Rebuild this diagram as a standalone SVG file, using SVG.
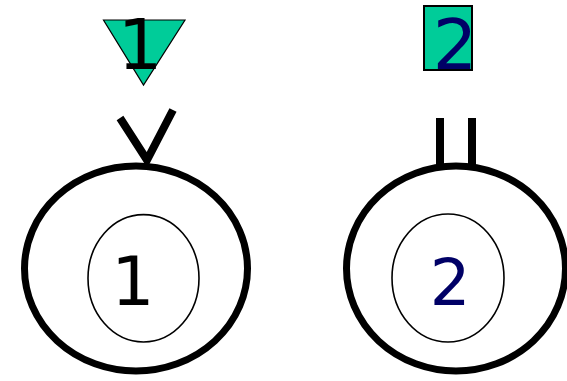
<svg xmlns="http://www.w3.org/2000/svg" width="567" height="381" viewBox="0 0 567 381">
  <style>
    .outer { fill: #ffffff; stroke: #000000; stroke-width: 7; }
    .inner { fill: #ffffff; stroke: #000000; stroke-width: 1.6; }
    .token { fill: #00cc99; stroke: #000000; }
    .digit { font-family: "DejaVu Sans", "Liberation Sans", sans-serif; text-anchor: middle; }
    .conn { stroke: #000000; stroke-width: 8; fill: none; }
  </style>
  <rect width="567" height="381" fill="#ffffff"/>
  <g id="connectors">
    <polyline class="conn" points="120,118 147,160 173,110" stroke-linejoin="miter"/>
    <line class="conn" x1="440" y1="118" x2="440" y2="168"/>
    <line class="conn" x1="472" y1="118" x2="472" y2="168"/>
  </g>
  <g id="node1">
    <ellipse class="outer" cx="136" cy="268.5" rx="111.5" ry="102.5"/>
    <ellipse class="inner" cx="143.5" cy="278.3" rx="55.5" ry="63.7"/>
    <text class="digit" x="133" y="305" font-size="68" fill="#000000">1</text>
  </g>
  <g id="node2">
    <ellipse class="outer" cx="456" cy="268.5" rx="109.5" ry="102.5"/>
    <ellipse class="inner" cx="448" cy="278" rx="56" ry="64"/>
    <text class="digit" x="450" y="305" font-size="64" fill="#000066">2</text>
  </g>
  <g id="token1">
    <polygon class="token" stroke-width="1.2" points="103.5,20 185,20 143.5,85"/>
    <text class="digit" x="140" y="69" font-size="70" fill="#000000">1</text>
  </g>
  <g id="token2">
    <rect class="token" stroke-width="2" x="424" y="6" width="48" height="64"/>
    <text class="digit" x="455" y="69" font-size="70" fill="#000066">2</text>
  </g>
</svg>
